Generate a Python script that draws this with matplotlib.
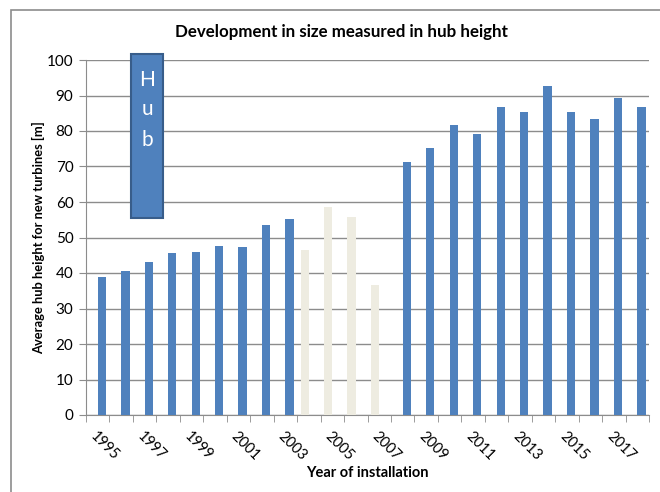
import numpy as np
import matplotlib
matplotlib.use("Agg")
import matplotlib.pyplot as plt
from matplotlib.patches import Rectangle

plt.rcParams['font.family'] = ['Lato', 'DejaVu Sans']

years = list(range(1995, 2019))
# measured hub heights (blue) and estimated years (light)
hub_height = [39.0, 40.7, 43.1, 45.6, 45.8, 47.6, 47.4, 53.5, 55.2,
              None, None, None, None,
              71.4, 75.1, 81.8, 79.1, 86.7, 85.3, 92.6, 85.4, 83.4, 89.3, 86.9]
hub_height_est = [None] * 9 + [46.5, 58.5, 55.8, 36.5] + [None] * 11
tick_years = years[::2]

blue = '#4F81BD'
beige = '#EEECE1'
grid_col = '#8C8C8C'

fig = plt.figure(figsize=(6.6, 4.92), dpi=100)
ax = fig.add_axes([86 / 660, 1 - 415 / 492, 563 / 660, 355 / 492])

x = np.arange(len(years))
w = 0.355
for i, v in enumerate(hub_height):
    if v is not None:
        ax.bar(x[i] + w / 2, v, width=w, color=blue, zorder=3)
for i, v in enumerate(hub_height_est):
    if v is not None:
        ax.bar(x[i] - w / 2, v, width=w, color=beige, zorder=3)

ax.set_xlim(-0.5, len(years) - 0.5)
ax.set_ylim(0, 100)
ax.set_yticks(range(0, 101, 10))
ax.yaxis.grid(True, color=grid_col, linewidth=1)
ax.set_axisbelow(True)
for s in ['top', 'right']:
    ax.spines[s].set_visible(False)
for s in ['left', 'bottom']:
    ax.spines[s].set_color(grid_col)
ax.tick_params(axis='y', length=5, color=grid_col, labelsize=11, pad=4)

# category boundaries get the tick marks, labels sit at bar centres
ax.set_xticks(np.arange(-0.5, len(years), 1), minor=True)
ax.tick_params(axis='x', which='minor', length=5, color=grid_col)
ax.set_xticks([years.index(y) for y in tick_years])
ax.set_xticklabels([str(y) for y in tick_years], rotation=-45,
                   ha='left', va='top', rotation_mode='anchor', fontsize=10.5)
ax.tick_params(axis='x', which='major', length=0, pad=10)

ax.set_xlabel('Year of installation', fontsize=10.5, fontweight='bold')
ax.xaxis.set_label_coords(0.5, -0.145)
ax.set_ylabel('Average hub height for new turbines [m]', fontsize=9.3,
              fontweight='bold')
ax.yaxis.set_label_coords(-0.073, 0.5)
fig.text(341 / 660, 1 - 32 / 492, 'Development in size measured in hub height',
         ha='center', va='center', fontsize=12.2, fontweight='bold')

# "Hub" text box
ax.add_patch(Rectangle((1.405, 55.6), 1.39, 46.0, facecolor=blue,
                       edgecolor='#385D8A', linewidth=1.5, clip_on=False, zorder=5))
for letter, yv in zip(['H', 'u', 'b'], [94.5, 86.1, 77.6]):
    ax.text(2.1, yv, letter, color='white', fontsize=15, ha='center',
            va='center', zorder=6, clip_on=False)

# chart frame
fig.patches.append(Rectangle((11 / 660, -0.2), 1.2, 0.2 + 1 - 10 / 492,
                             transform=fig.transFigure, fill=False,
                             edgecolor='#8C8C8C', linewidth=1.2))

fig.savefig('out.png', dpi=100)
